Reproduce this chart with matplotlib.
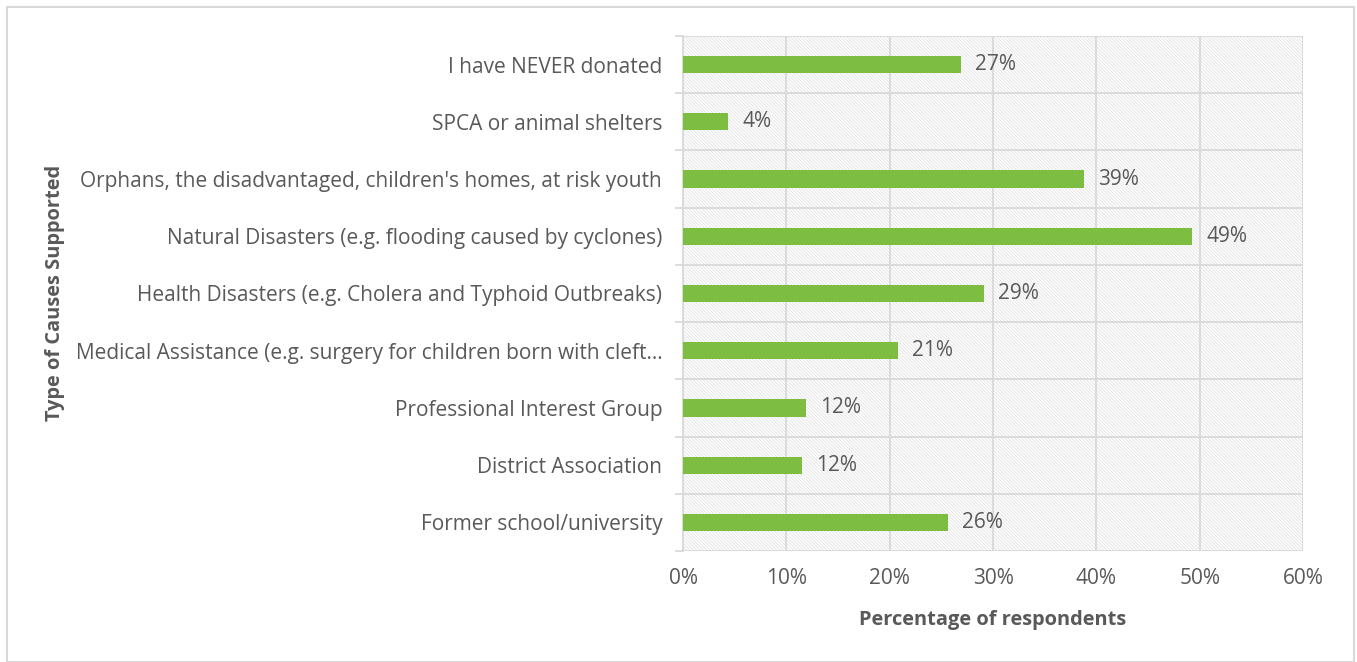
import matplotlib
matplotlib.use("Agg")
import matplotlib.pyplot as plt
from matplotlib.patches import Rectangle
from matplotlib.ticker import FixedLocator, PercentFormatter
import numpy as np

categories = [
    "Former school/university",
    "District Association",
    "Professional Interest Group",
    "Medical Assistance (e.g. surgery for children born with cleft\u2026",
    "Health Disasters (e.g. Cholera and Typhoid Outbreaks)",
    "Natural Disasters (e.g. flooding caused by cyclones)",
    "Orphans, the disadvantaged, children's homes, at risk youth",
    "SPCA or animal shelters",
    "I have NEVER donated",
]
values = [25.6, 11.5, 11.9, 20.8, 29.1, 49.3, 38.8, 4.4, 26.9]
x_ticks = [0, 10, 20, 30, 40, 50, 60]

text_color = "#595959"
grid_color = "#d9d9d9"
bar_color = "#7cbd42"
font = ["Open Sans", "DejaVu Sans"]
plt.rcParams["font.family"] = font
plt.rcParams["hatch.linewidth"] = 0.6

fig = plt.figure(figsize=(13.57, 6.62), dpi=100)
fig.patches.append(Rectangle((7 / 1357, 0), 1347 / 1357, 655 / 662,
                             transform=fig.transFigure, fill=False,
                             edgecolor=grid_color, linewidth=1.5))

ax = fig.add_axes([683 / 1357, 1 - 551 / 662, 620 / 1357, (551 - 36) / 662])
ax.patch.set_facecolor("white")
ax.patch.set_hatch("\\" * 10)
ax.patch.set_edgecolor("#e2e2e2")

y = np.arange(len(categories))
ax.barh(y, values, height=0.3, color=bar_color, zorder=3)
for yi, v in zip(y, values):
    ax.text(v + 1.4, yi, f"{v:.0f}%", va="center", ha="left",
            fontsize=15, color=text_color, zorder=4)

ax.set_xlim(0, 60)
ax.set_ylim(-0.5, len(categories) - 0.5)
ax.xaxis.set_major_locator(FixedLocator(x_ticks))
ax.xaxis.set_major_formatter(PercentFormatter(decimals=0))
ax.set_yticks(y)
ax.set_yticklabels(categories)
ax.yaxis.set_minor_locator(FixedLocator(np.arange(-0.5, len(categories), 1.0)))

ax.grid(axis="x", which="major", color=grid_color, linewidth=1.3, zorder=1)
ax.grid(axis="y", which="minor", color=grid_color, linewidth=1.3, zorder=1)
ax.tick_params(axis="x", length=0, labelsize=15, labelcolor=text_color, pad=12)
ax.tick_params(axis="y", which="major", length=0, labelsize=15,
               labelcolor=text_color, pad=15)
ax.tick_params(axis="y", which="minor", length=6, color=grid_color, width=1.3)
for name, sp in ax.spines.items():
    if name == "left":
        sp.set_color(grid_color)
        sp.set_linewidth(1.3)
    else:
        sp.set_visible(False)

ax.set_axisbelow(True)
fig.text(993 / 1357, 1 - 620 / 662, "Percentage of respondents", ha="center",
         va="center", fontsize=14.4, fontweight="bold", color=text_color)
fig.text(55 / 1357, 1 - 293 / 662, "Type of Causes Supported", ha="center",
         va="center", rotation=90, fontsize=14.4, fontweight="bold",
         color=text_color)

fig.savefig("out.png", dpi=100)
